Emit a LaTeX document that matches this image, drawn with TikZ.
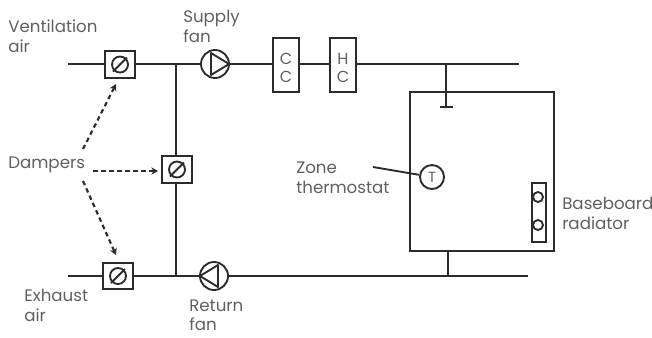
\documentclass[tikz,border=0pt]{standalone}
\usepackage{fontspec}
\setmainfont{Poppins}
\usetikzlibrary{arrows.meta,calc}
\definecolor{ink}{HTML}{2B2B2B}
\definecolor{lbl}{HTML}{606060}
\tikzset{
  x=0.75pt,y=-0.75pt,
  duct/.style={draw=ink,line width=1.4pt},
  damperbox/.style={draw=ink,line width=1.4pt,fill=white,minimum width=22pt,minimum height=20pt,inner sep=0pt},
  coil/.style={draw=ink,line width=1.4pt,fill=white,minimum width=19.5pt,minimum height=41pt,inner sep=0pt,align=center,text=lbl,font=\fontsize{12}{14}\selectfont},
  fan/.style={circle,draw=ink,line width=1.4pt,fill=white,minimum size=21pt,inner sep=0pt},
  lab/.style={inner sep=0pt,align=left,anchor=north west,text=lbl,font=\fontsize{12.5}{14.6}\selectfont},
  callout/.style={draw=ink,line width=1.6pt,dash pattern=on 3.4pt off 2.6pt,-{Stealth[length=5pt,width=5.5pt]}},
}
\newcommand{\dampermark}[1]{%
  \draw[ink,line width=1.4pt] (#1) circle[radius=8];
  \draw[ink,line width=1.4pt] ($(#1)+(-7,7)$) -- ($(#1)+(7,-7)$);
}
\begin{document}
\begin{tikzpicture}
\useasboundingbox (0,0) rectangle (652,337);
% free ends and junctions
\coordinate (supW) at (68,64);
\coordinate (supE) at (519,64);
\coordinate (retW) at (68,276);
\coordinate (retE) at (528,276);
\coordinate (jT) at (176,64);
\coordinate (jB) at (176,276);
\coordinate (diffTop) at (446,64);
\coordinate (diffEnd) at (446,107);
\coordinate (diffL) at (440,107);
\coordinate (diffR) at (453,107);
\coordinate (retTop) at (448,251);
\coordinate (retJ) at (448,276);
% ducts
\draw[duct] (supW) -- (supE);
\draw[duct] (retW) -- (retE);
\draw[duct] (jT) -- (jB);
\draw[duct] (retTop) -- (retJ);
% zone
\node[draw=ink,line width=1.4pt,minimum width=108pt,minimum height=119.25pt,inner sep=0pt] (zone) at (482,171.5) {};
\draw[duct] (diffL) -- (diffR);
\draw[duct] (diffTop) -- (diffEnd);
% dampers
\node[damperbox] (d1) at (120,64.5) {};
\node[damperbox] (d2) at (177,169.5) {};
\node[damperbox] (d3) at (118,276) {};
\dampermark{d1}
\dampermark{d2}
\dampermark{d3}
% fans
\node[fan] (sf) at (215,64) {};
\draw[ink,line width=1.4pt,line join=round] (211,53) -- (229,64) -- (211,75) -- cycle;
\node[fan] (rf) at (214,276) {};
\draw[ink,line width=1.4pt,line join=round] (218,265) -- (200,276) -- (218,287) -- cycle;
% coils
\node[coil] (cc) at (286,65) {\rule{0pt}{13pt}C\\C};
\node[coil] (hc) at (343,65) {\rule{0pt}{13pt}H\\C};
% thermostat
\node[circle,draw=ink,line width=1.4pt,fill=white,minimum size=18pt,inner sep=0pt,text=lbl,font=\fontsize{11}{11}\selectfont] (tstat) at (432,177) {T};
\coordinate (tlead) at (373,167);
\draw[duct] (tlead) -- (tstat);
% radiator
\node[draw=ink,line width=1.4pt,minimum width=10.5pt,minimum height=44pt,inner sep=0pt] (rad) at (539,212.5) {};
\node[circle,draw=ink,line width=1.4pt,fill=white,minimum size=7.5pt,inner sep=0pt] (r1) at (538,197) {};
\node[circle,draw=ink,line width=1.4pt,fill=white,minimum size=7.5pt,inner sep=0pt] (r2) at (538,225) {};
% labels
\node[lab] (lvent) at (8,20) {Ventilation\\air};
\node[lab] (lsup) at (183,10) {Supply\\fan};
\node[lab] (ldamp) at (8,157) {Dampers};
\node[lab] (lzone) at (296,162) {Zone\\thermostat};
\node[lab] (lbase) at (562,197) {Baseboard\\radiator};
\node[lab] (lexh) at (24,289) {Exhaust\\air};
\node[lab,font=\fontsize{12.5}{13.8}\selectfont] (lret) at (189,300) {Return\\fan};
% callouts
\coordinate (a1s) at (83,149);
\coordinate (a3s) at (83,181);
\coordinate (a2s) at (93,171);
\coordinate (a1e) at (116,84);
\coordinate (a2e) at (158,171);
\coordinate (a3e) at (116,255);
\draw[callout] (a1s) -- (a1e);
\draw[callout] (a2s) -- (a2e);
\draw[callout] (a3s) -- (a3e);
\end{tikzpicture}
\end{document}
